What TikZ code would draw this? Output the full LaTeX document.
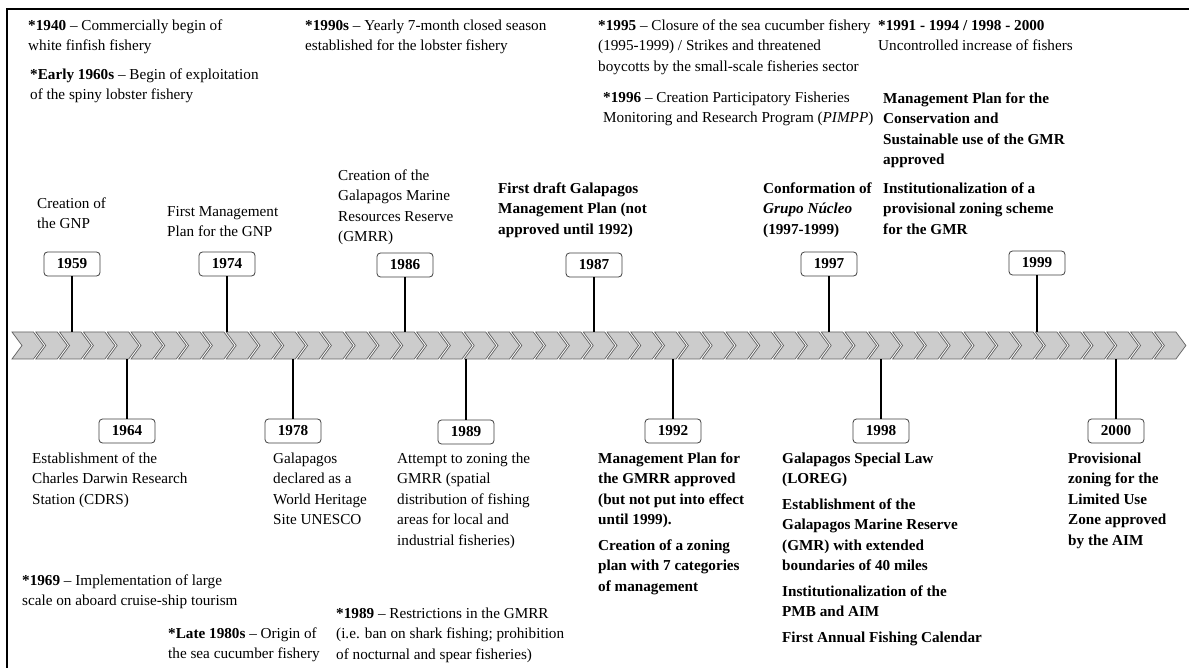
\documentclass[tikz,border=0pt]{standalone}
\usepackage{fontspec}
\setmainfont{Liberation Serif}
\begin{document}
\begin{tikzpicture}[x=1pt,y=-1pt,
  txt/.style={anchor=north west, inner sep=0pt, align=left, font=\fontsize{15.2}{20.5}\selectfont},
  btxt/.style={txt, font=\fontsize{15.2}{20.5}\selectfont\bfseries},
  yearbox/.style={draw=black!75, line width=0.8pt, rounded corners=3.5pt, fill=white,
     minimum width=56pt, minimum height=24pt, inner sep=0pt, font=\fontsize{15.2}{18}\selectfont\bfseries},
  stem/.style={line width=2.4pt, black},
  chev/.style={fill=black!20, draw=black!62, line width=0.7pt},
  frame/.style={line width=2pt, black}]
\useasboundingbox (0,0) rectangle (1189,668);
\fill[white] (0,0) rectangle (1189,668);
\draw[frame] (7,668) -- (7,9) -- (1189,9);

% timeline chevrons
\coordinate (tltop) at (0,332);
\coordinate (tlbot) at (0,359);
\foreach \i in {0,...,48}{
  \pgfmathsetmacro\xa{12+23.8*\i}
  \draw[chev] (\xa,332) -- ++(21.5,0) -- ++(10,13.5) -- ++(-10,13.5) -- ++(-21.5,0) -- ++(10,-13.5) -- cycle;
}

% top star notes
\node[txt] (nA) at (28,15.6) {\strut\textbf{*1940} -- Commercially begin of\\white finfish fishery};
\node[txt] (nB) at (30,64.6) {\strut\textbf{*Early 1960s} -- Begin of exploitation\\of the spiny lobster fishery};
\node[txt] (nC) at (305,15.6) {\strut\textbf{*1990s} -- Yearly 7-month closed season\\established for the lobster fishery};
\node[txt] (nD) at (598,15.6) {\strut\textbf{*1995} -- Closure of the sea cucumber fishery\\(1995-1999) / Strikes and threatened\\boycotts by the small-scale fisheries sector};
\node[txt] (nE) at (603,87.6) {\strut\textbf{*1996} -- Creation Participatory Fisheries\\Monitoring and Research Program (\textit{PIMPP})};
\node[txt] (nF) at (878,15.6) {\strut\textbf{*1991 - 1994 / 1998 - 2000}\\Uncontrolled increase of fishers};

% upper events
\node[txt] (t1959) at (37,193.6) {\strut Creation of\\the GNP};
\node[txt] (t1974) at (167,201.6) {\strut First Management\\Plan for the GNP};
\node[txt] (t1986) at (338,165.6) {\strut Creation of the\\Galapagos Marine\\Resources Reserve\\(GMRR)};
\node[btxt] (t1987) at (498,178.6) {\strut First draft Galapagos\\Management Plan (not\\approved until 1992)};
\node[btxt] (t1997) at (763,178.6) {\strut Conformation of\\\textit{Grupo Núcleo}\\(1997-1999)};
\node[btxt] (t1999a) at (883,88.6) {\strut Management Plan for the\\Conservation and\\Sustainable use of the GMR\\approved};
\node[btxt] (t1999b) at (883,178.6) {\strut Institutionalization of a\\provisional zoning scheme\\for the GMR};

\node[yearbox] (y1959) at (72,264) {1959};
\node[yearbox] (y1974) at (227,264) {1974};
\node[yearbox] (y1986) at (405,265) {1986};
\node[yearbox] (y1987) at (594,265) {1987};
\node[yearbox] (y1997) at (829,264) {1997};
\node[yearbox] (y1999) at (1037,263) {1999};
\foreach \n in {y1959,y1974,y1986,y1987,y1997,y1999}
  \draw[stem] (\n.south) -- (\n.south |- tltop);

% lower events
\node[yearbox] (y1964) at (127,431) {1964};
\node[yearbox] (y1978) at (293,431) {1978};
\node[yearbox] (y1989) at (466,432) {1989};
\node[yearbox] (y1992) at (673,431) {1992};
\node[yearbox] (y1998) at (881,431) {1998};
\node[yearbox] (y2000) at (1116,431) {2000};
\foreach \n in {y1964,y1978,y1989,y1992,y1998,y2000}
  \draw[stem] (\n.north) -- (\n.north |- tlbot);

\node[txt] (t1964) at (32,448.6) {\strut Establishment of the\\Charles Darwin Research\\Station (CDRS)};
\node[txt] (t1978) at (273,448.6) {\strut Galapagos\\declared as a\\World Heritage\\Site UNESCO};
\node[txt] (t1989) at (397,448.6) {\strut Attempt to zoning the\\GMRR (spatial\\distribution of fishing\\areas for local and\\industrial fisheries)};
\node[btxt] (t1992a) at (598,448.6) {\strut Management Plan for\\the GMRR approved\\(but not put into effect\\until 1999).};
\node[btxt] (t1992b) at (598,535.6) {\strut Creation of a zoning\\plan with 7 categories\\of management};
\node[btxt] (t1998a) at (782,448.6) {\strut Galapagos Special Law\\(LOREG)};
\node[btxt] (t1998b) at (782,494.6) {\strut Establishment of the\\Galapagos Marine Reserve\\(GMR) with extended\\boundaries of 40 miles};
\node[btxt] (t1998c) at (782,581.6) {\strut Institutionalization of the\\PMB and AIM};
\node[btxt] (t1998d) at (782,627.6) {\strut First Annual Fishing Calendar};
\node[btxt] (t2000) at (1068,448.6) {\strut Provisional\\zoning for the\\Limited Use\\Zone approved\\by the AIM};

% bottom star notes
\node[txt] (nG) at (22,570.6) {\strut\textbf{*1969} -- Implementation of large\\scale on aboard cruise-ship tourism};
\node[txt] (nH) at (168,623.6) {\strut\textbf{*Late 1980s} -- Origin of\\the sea cucumber fishery};
\node[txt] (nI) at (336,603.6) {\strut\textbf{*1989} -- Restrictions in the GMRR\\(i.e. ban on shark fishing; prohibition\\of nocturnal and spear fisheries)};
\end{tikzpicture}
\end{document}
